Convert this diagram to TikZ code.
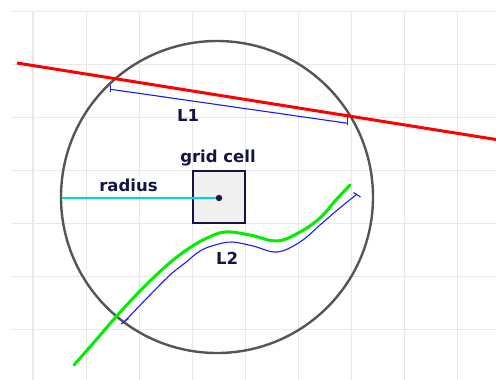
\documentclass[tikz,border=0pt]{standalone}
\usepackage{fontspec}
\setmainfont{DejaVu Sans}
\begin{document}
\begin{tikzpicture}[x=1pt,y=-1pt,
  gridline/.style={draw=gridgray,line width=1.2pt},
  labeltext/.style={font=\fontsize{16.5}{18}\selectfont\bfseries,text=navy,inner sep=0pt},
  dimline/.style={draw=dimblue,line width=1.1pt},
]
\definecolor{gridgray}{HTML}{E8E8E8}
\definecolor{navy}{HTML}{141445}
\definecolor{dimblue}{HTML}{1A1AFF}
\definecolor{circgray}{HTML}{555555}
\definecolor{cellfill}{HTML}{F0F0F0}
\definecolor{cyanline}{HTML}{00D8D8}
\definecolor{greenline}{HTML}{00EE00}
\useasboundingbox[fill=white] (0,0) rectangle (496,380);
% grid
\foreach \y in {11.5,64.5,117.5,170.5,223.5,276.5,329.5}
  \draw[gridline] (11,\y) -- (496,\y);
\foreach \x in {33,86.1,139.2,192.3,245.4,298.5,351.6,404.7,457.8}
  \draw[gridline] (\x,11.5) -- (\x,380);
% circle
\coordinate (c) at (217,197);
\draw[circgray,line width=2.4pt] (c) circle[radius=156];
% red line
\coordinate (r1) at (17,63);
\coordinate (r2) at (496,139.5);
\draw[red,line width=3pt] (r1) -- (r2);
% L1 dimension
\coordinate (l1a) at (110.7,89.3);
\coordinate (l1b) at (347.7,123.3);
\draw[dimline] (l1a) -- (l1b);
\draw[dimline] ([yshift=-3]l1a) -- ([yshift=4]l1a);
\draw[dimline] ([yshift=-2]l1b) -- ([yshift=8]l1b);
\node[labeltext] (L1) at (188,115) {L1};
% grid cell
\node[draw=navy,line width=2pt,fill=cellfill,minimum width=52pt,minimum height=52pt,inner sep=0pt] (cell) at (218.8,196.8) {};
\node[labeltext] (gc) at (218,158) {grid cell};
\coordinate (dot) at (219,198);
\coordinate (rl) at (62,198);
\draw[cyanline,line width=2.6pt] (rl) -- (dot);
\fill[navy] (dot) circle[radius=3.2];
\node[labeltext] (rad) at (128.5,185) {radius};
% green curve
\draw[greenline,line width=3pt,line cap=round] plot[smooth,tension=0.6] coordinates {
 (74,365) (96,340) (115,318) (140,291) (165,267) (185,251) (205,239) (225,232) (250,235) (277,241) (300,232) (320,218) (335,201) (350,185)};
% blue L2
\draw[dimline] plot[smooth,tension=0.6] coordinates {
 (125,321) (150,295) (170,275) (185,263) (200,251) (215,245) (232,242) (253,246) (277,252) (300,242) (320,225) (335,212) (357,194)};
\coordinate (t1a) at (121,324);
\coordinate (t1b) at (128.5,318.5);
\draw[dimline] (t1a) -- (t1b);
\coordinate (t2a) at (353.5,192.5);
\coordinate (t2b) at (360.5,197);
\draw[dimline] (t2a) -- (t2b);
\node[labeltext] (L2) at (227,258) {L2};
\end{tikzpicture}
\end{document}
